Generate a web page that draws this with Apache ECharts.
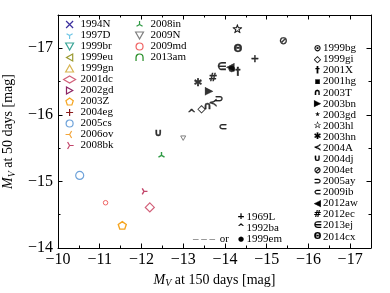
<!DOCTYPE html>
<html><head><meta charset="utf-8">
<script src="https://cdn.jsdelivr.net/npm/echarts@6/dist/echarts.min.js"></script>
<style>html,body{margin:0;padding:0;background:#fff}#c{width:390px;height:293px}</style>
</head><body><div id="c"></div>
<script>
// ---------- data ----------
const X_MAJOR = [-17, -16, -15, -14, -13, -12, -11, -10];
const X_MINOR = [-16.5, -15.5, -14.5, -13.5, -12.5, -11.5, -10.5];
const Y_MAJOR = [-17, -16, -15, -14];
const Y_MINOR = [-16.5, -15.5, -14.5];

// left legend, first column (coloured shapes)
const col1Names = ['1994N','1997D','1999br','1999eu','1999gn','2001dc','2002gd','2003Z','2004eg','2005cs','2006ov','2008bk'];
const col1X = [null, null, null, null, null, -12.20, null, -11.54, null, -10.52, null, -12.06];
const col1Y = [null, null, null, null, null, -14.61, null, -14.34, null, -15.09, null, -14.85];
// left legend, second column
const col2Names = ['2008in','2009N','2009md','2013am'];
const col2X = [-12.48, -13.00, -11.14, null];
const col2Y = [-15.39, -15.65, -14.68, null];
// right legend (black glyph markers)
const glyphNames = ['1999bg','1999gi','2001X','2001hg','2003T','2003bn','2003gd','2003hl','2003hn','2004A','2004dj','2004et','2005ay','2009ib','2012aw','2012ec','2013ej','2014cx'];
const glyphX = [null, -13.44, -14.31, null, -13.58, -13.62, null, -14.30, -13.36, -13.72, -12.40, -15.40, -13.86, -13.95, -14.13, -13.71, -13.92, -14.31];
const glyphY = [null, -16.08, -16.64, null, -16.13, -16.35, null, -17.27, -16.47, -16.18, -15.72, -17.11, -16.23, -15.81, -16.71, -16.55, -16.71, -16.98];
// bottom legend
const extraNames = ['1969L','1992ba','1999em'];
const extraX = [-14.72, -13.20, -14.17];
const extraY = [-16.83, -16.01, -16.69];

// ---------- styles ----------
const P = {
  x: 'path://M-1,-1L1,1M-1,1L1,-1',
  plus: 'path://M-1,0L1,0M0,-1L0,1',
  triDown: 'path://M0,0L0,1M0,0L-0.866,-0.5M0,0L0.866,-0.5M0,-1',
  triUp: 'path://M0,0L0,-1M0,0L-0.866,0.5M0,0L0.866,0.5M0,1',
  triLeft: 'path://M0,0L-1,0M0,0L0.5,-0.866M0,0L0.5,0.866M1,0',
  triRight: 'path://M0,0L1,0M0,0L-0.5,-0.866M0,0L-0.5,0.866M-1,0',
  vDown: 'path://M0,1L-0.9,-0.6L0.9,-0.6Z',
  vUp: 'path://M0,-1L-0.9,0.6L0.9,0.6Z',
  vLeft: 'path://M-1,0L0.6,-0.9L0.6,0.9Z',
  vRight: 'path://M1,0L-0.6,-0.9L-0.6,0.9Z',
  penta: 'path://M0,-1L0.951,-0.309L0.588,0.809L-0.588,0.809L-0.951,-0.309Z',
  cap: 'path://M-1,1L-1,0A1,1 0 0 1 1,0L1,1'
};
const col1Style = [
  {s:P.x, c:'#3b2f9e', size:7, w:1.6},
  {s:P.triDown, c:'#6ec6e6', size:8, w:1.4},
  {s:P.vDown, c:'#3aa597', size:7, w:1.2},
  {s:P.vLeft, c:'#9b9a32', size:7, w:1.2},
  {s:P.vUp, c:'#d8b450', size:7, w:1.2},
  {s:'diamond', c:'#d26079', size:9, w:1.2},
  {s:P.vRight, c:'#8c2262', size:7, w:1.2},
  {s:P.penta, c:'#f5a41e', size:8, w:1.4},
  {s:P.plus, c:'#8b1c1c', size:7, w:1.6},
  {s:'circle', c:'#6fa3da', size:8, w:1.2},
  {s:P.triLeft, c:'#f2a53a', size:7, w:1.4},
  {s:P.triRight, c:'#c2456a', size:7, w:1.4}
];
const col2Style = [
  {s:P.triUp, c:'#2e9a44', size:7, w:1.4},
  {s:P.vDown, c:'#7f7f7f', size:5, w:1.0},
  {s:'circle', c:'#f06464', size:4.5, w:1.0},
  {s:P.cap, c:'#228b22', size:7, w:1.6}
];
const glyphChar = ['⊙','◇','†','▪','∩','▶','⋆','☆','✱','≺','∪','⊘','⊃','⊂','◀','#','∈','Θ'];
const extraChar = ['+','^','●'];
const glyphMap = {};
glyphNames.forEach((n,i)=>glyphMap[n]=glyphChar[i]);
extraNames.forEach((n,i)=>glyphMap[n]=extraChar[i]);

const SERIF = 'Liberation Serif';
const GFONT = 'DejaVu Sans';

function pts(x, y) { return x == null ? [] : [[x, y]]; }

const series = [];
function addShape(names, X, Y, styles) {
  names.forEach((n, i) => {
    const st = styles[i];
    series.push({
      type: 'scatter', name: n, data: pts(X[i], Y[i]),
      symbol: st.s, symbolSize: st.size, symbolKeepAspect: true,
      itemStyle: {color: 'rgba(0,0,0,0)', borderColor: st.c, borderWidth: st.w, opacity: 1},
      emphasis: {disabled: true}, animation: false, z: 3
    });
  });
}
addShape(col1Names, col1X, col1Y, col1Style);
addShape(col2Names, col2X, col2Y, col2Style);
function glyphSize(g) { return g === '●' ? 8 : (g === '☆' ? 12 : 10.5); }
function addGlyph(names, X, Y) {
  names.forEach((n, i) => {
    const g = glyphMap[n];
    series.push({
      type: 'scatter', name: n, data: pts(X[i], Y[i]),
      symbol: 'circle', symbolSize: 1,
      itemStyle: {color: 'rgba(0,0,0,0)'},
      label: {show: true, position: 'inside', formatter: g, color: '#000',
        fontFamily: GFONT, fontWeight: 'bold', fontSize: glyphSize(g),
        textBorderColor: '#000', textBorderWidth: (g === '☆' ? 0.7 : 0.3)},
      emphasis: {disabled: true}, animation: false, z: 4
    });
  });
}
addGlyph(glyphNames, glyphX, glyphY);
addGlyph(extraNames, extraX, extraY);

const fmt = v => (v < 0 ? '\u2212' : '') + Math.abs(v);
const textLeg = {fontFamily: SERIF, fontSize: 11, lineHeight: 10.9, color: '#000'};
const nameRich = {
  i: {fontFamily: SERIF, fontStyle: 'italic', fontSize: 14, color: '#000'},
  s: {fontFamily: SERIF, fontStyle: 'italic', fontSize: 10, color: '#000', padding: [7, 0, 0, 0]},
  n: {fontFamily: SERIF, fontSize: 14, color: '#000'}
};

function xAx(pos, major, isMain) {
  return {
    type: 'value', gridIndex: 0, position: pos, min: -17.5, max: -10, inverse: true,
    splitLine: {show: false},
    axisLine: {show: major, lineStyle: {color: '#000', width: 1}},
    axisTick: {show: true, inside: true, length: major ? 4.5 : 2.5, customValues: major ? X_MAJOR : X_MINOR, lineStyle: {color: '#000', width: 1}},
    axisLabel: isMain ? {show: true, customValues: X_MAJOR, formatter: fmt, margin: 4, color: '#000', fontFamily: SERIF, fontSize: 16} : {show: false},
    name: isMain ? '{i|M}{s|V}{n| at 150 days [mag]}' : '',
    nameLocation: 'middle', nameGap: 18,
    nameTextStyle: {rich: nameRich}
  };
}
function yAx(pos, major, isMain) {
  return {
    type: 'value', gridIndex: 0, position: pos, min: -17.5, max: -14, inverse: true,
    splitLine: {show: false},
    axisLine: {show: major, lineStyle: {color: '#000', width: 1}},
    axisTick: {show: true, inside: true, length: major ? 4.5 : 2.5, customValues: major ? Y_MAJOR : Y_MINOR, lineStyle: {color: '#000', width: 1}},
    axisLabel: isMain ? {show: true, customValues: Y_MAJOR, formatter: fmt, margin: 5, color: '#000', fontFamily: SERIF, fontSize: 16} : {show: false},
    name: isMain ? '{i|M}{s|V}{n| at 50 days [mag]}' : '',
    nameLocation: 'middle', nameGap: 36,
    nameTextStyle: {rich: nameRich}
  };
}

const richGlyph = {
  g: {width: 11, align: 'center', fontFamily: GFONT, fontWeight: 'bold', fontSize: 9, lineHeight: 11, color: '#000', textBorderColor: '#000', textBorderWidth: 0.2},
  t: {fontFamily: SERIF, fontSize: 11, lineHeight: 11, color: '#000'},
  p: {width: 42.5, fontSize: 11, lineHeight: 11},
  d: {width: 24, align: 'left', fontFamily: SERIF, fontWeight: 'bold', fontSize: 11, lineHeight: 11, color: '#777'},
  o: {width: 18.5, align: 'left', fontFamily: SERIF, fontSize: 11, lineHeight: 11, color: '#000'},
  b: {width: 11, align: 'center', fontFamily: GFONT, fontSize: 7, lineHeight: 11, color: '#000'}
};

const option = {
  backgroundColor: '#fff',
  animation: false,
  grid: {left: 58, right: 19, top: 15, bottom: 45, outerBoundsMode: 'none', containLabel: false},
  xAxis: [xAx('bottom', true, true), xAx('bottom', false, false), xAx('top', true, false), xAx('top', false, false)],
  yAxis: [yAx('left', true, true), yAx('left', false, false), yAx('right', true, false), yAx('right', false, false)],
  legend: [
    {orient: 'vertical', left: 63, top: 19, padding: 0, itemGap: 0, itemWidth: 12, itemHeight: 7,
      selectedMode: false, data: col1Names, textStyle: textLeg, itemStyle: {borderWidth: 1.2}},
    {orient: 'vertical', left: 135, top: 19, padding: 0, itemGap: 0, itemWidth: 12, itemHeight: 7,
      selectedMode: false, data: col2Names, textStyle: textLeg, itemStyle: {borderWidth: 1.2}},
    {orient: 'vertical', left: 306, top: 42.8, padding: 0, itemGap: 0.08, itemWidth: 1, itemHeight: 1,
      selectedMode: false, data: glyphNames, formatter: n => '{g|' + glyphMap[n] + '}{t|' + n + '}',
      textStyle: {fontFamily: SERIF, fontSize: 11, color: '#000', rich: richGlyph}},
    {orient: 'vertical', left: 187, top: 211.2, padding: 0, itemGap: 0, itemWidth: 1, itemHeight: 1,
      selectedMode: false, data: extraNames,
      formatter: n => n === '1999em' ? '{d|– – –}{o| or}{b|●}{t|1999em}' : '{p| }{g|' + glyphMap[n] + '}{t|' + n + '}',
      textStyle: {fontFamily: SERIF, fontSize: 11, color: '#000', rich: richGlyph}}
  ],
  series: series.map(s => Object.assign({xAxisIndex: 0, yAxisIndex: 0}, s))
};
const chart = echarts.init(document.getElementById('c'), null, {renderer: 'canvas'});
chart.setOption(option);
</script></body></html>
